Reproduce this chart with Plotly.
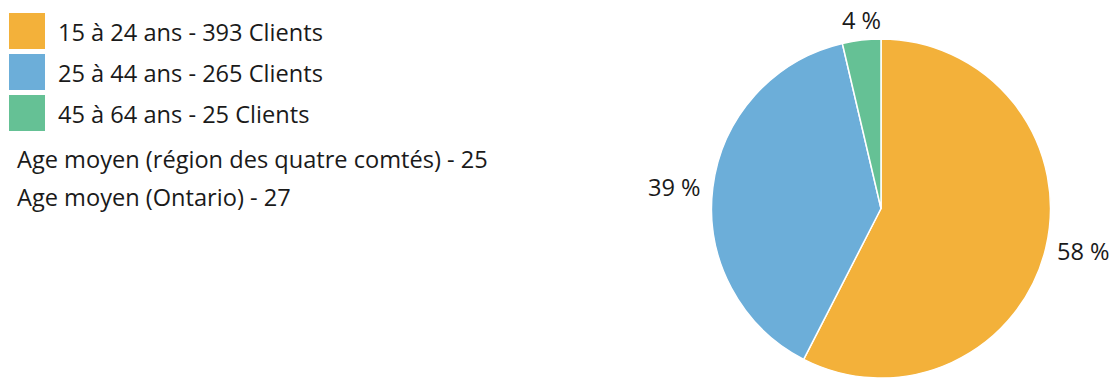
import numpy as np
import plotly.graph_objects as go

# ---- data ----
categories = ["15 à 24 ans", "25 à 44 ans", "45 à 64 ans"]
clients = [393, 265, 25]
colors = ["#F3B13A", "#6CAED9", "#65C195"]
extra_lines = ["Age moyen (région des quatre comtés) - 25", "Age moyen (Ontario) - 27"]

W, H = 1112, 378
FONT = "Open Sans"
FS = 23.6
TXT = "#1a1a1a"

total = sum(clients)
pct_text = [f"{round(v / total * 100)} %" for v in clients]


def px(x):
    return x / W


def py(y):
    return 1 - y / H


# pie geometry (pixels): domain fills from y=39 to the bottom of the figure
pie_top = 39
r = (H - pie_top) / 2
cy = pie_top + r
cx = 881

fig = go.Figure()
fig.add_trace(go.Pie(
    labels=categories,
    values=clients,
    textinfo="none",
    sort=False,
    direction="clockwise",
    rotation=0,
    marker=dict(colors=colors, line=dict(color="white", width=1.5)),
    showlegend=False,
    hoverinfo="label+value+percent",
    domain=dict(x=[px(cx - r), px(cx + r)], y=[0, py(pie_top)]),
))

shapes = []
annotations = []

# percentage labels placed just outside each slice, at its middle angle
frac = np.array(clients) / total
mid = (np.cumsum(frac) - frac / 2) * 2 * np.pi  # clockwise from 12 o'clock
for t, a in zip(pct_text, mid):
    s, c = np.sin(a), np.cos(a)
    pad = 10 * abs(s) + 1 * abs(c)
    rr = r + pad
    x = cx + rr * s
    y = cy - rr * c
    xa = "left" if s > 0.5 else ("right" if s < -0.5 else "center")
    ya = "bottom" if c > 0.5 else ("top" if c < -0.5 else "middle")
    annotations.append(dict(xref="paper", yref="paper", x=px(x), y=py(y),
                            xanchor=xa, yanchor=ya, showarrow=False, text=t,
                            font=dict(family=FONT, size=FS, color=TXT)))

# legend block
sq = 36
gap = 5
top = 13
for i, (cat, v, col) in enumerate(zip(categories, clients, colors)):
    y0 = top + i * (sq + gap)
    shapes.append(dict(type="rect", xref="paper", yref="paper",
                       x0=px(9), x1=px(9 + sq), y0=py(y0 + sq), y1=py(y0),
                       fillcolor=col, line=dict(width=0)))
    annotations.append(dict(xref="paper", yref="paper", x=px(56), y=py(y0 + sq / 2 + 1),
                            xanchor="left", yanchor="middle", showarrow=False,
                            text=f"{cat} - {v} Clients",
                            font=dict(family=FONT, size=FS, color=TXT)))
for j, line in enumerate(extra_lines):
    annotations.append(dict(xref="paper", yref="paper", x=px(15), y=py(159 + j * 38),
                            xanchor="left", yanchor="middle", showarrow=False,
                            text=line, font=dict(family=FONT, size=FS, color=TXT)))

fig.update_layout(
    width=W, height=H,
    margin=dict(l=0, r=0, t=0, b=0),
    paper_bgcolor="white", plot_bgcolor="white",
    shapes=shapes, annotations=annotations,
)

post = ("document.body.style.margin='0';"
        "var d=document.getElementById('{plot_id}');"
        "d.style.position='absolute';d.style.left='0px';d.style.top='0px';")
fig.write_html("out.html", post_script=post, config={"displayModeBar": False})
